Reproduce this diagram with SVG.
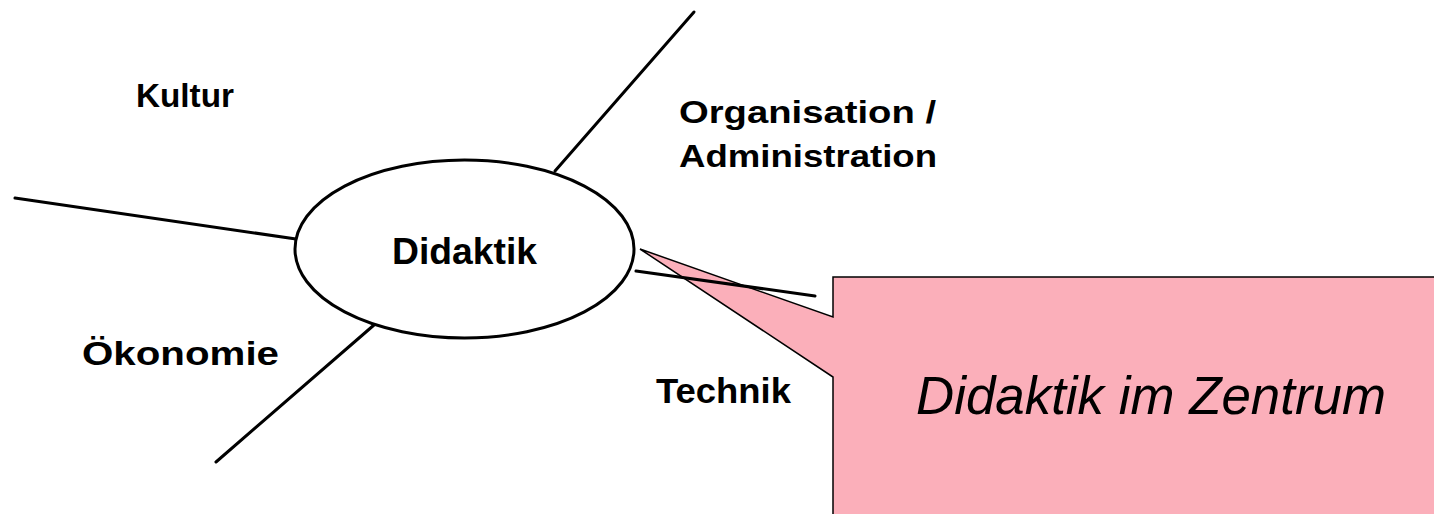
<svg xmlns="http://www.w3.org/2000/svg" width="1434" height="514" viewBox="0 0 1434 514">
  <style>
    .label { font-family: "Liberation Sans", Arial, sans-serif; font-weight: bold; fill: #000; }
    .spoke { stroke: #000; stroke-width: 3; fill: none; stroke-linecap: round; }
    .callout-text { font-family: "Liberation Sans", Arial, sans-serif; font-style: italic; font-size: 53px; fill: #000; }
  </style>
  <rect width="1434" height="514" fill="#fff"/>

  <!-- speech-bubble callout pointing at the centre node -->
  <g id="callout">
    <polygon points="833,277 1440,277 1440,520 833,520 833,377 640,249 833,317" fill="#FBAFBA" stroke="#000" stroke-width="1.5" stroke-linejoin="miter"/>
    <text class="callout-text" x="916" y="414" textLength="470" lengthAdjust="spacingAndGlyphs">Didaktik im Zentrum</text>
  </g>

  <!-- spokes radiating from the centre -->
  <g id="connectors">
    <line class="spoke" x1="15" y1="198" x2="296" y2="239"/>
    <line class="spoke" x1="216" y1="462" x2="374" y2="325"/>
    <line class="spoke" x1="555" y1="171" x2="694" y2="12"/>
    <line class="spoke" x1="636" y1="271" x2="815" y2="296"/>
  </g>

  <g id="didaktik">
    <ellipse cx="464.5" cy="249" rx="169.5" ry="89" fill="#fff" stroke="#000" stroke-width="3"/>
    <text class="label" x="392" y="264" font-size="37" textLength="145" lengthAdjust="spacingAndGlyphs">Didaktik</text>
  </g>

  <g id="kultur">
    <text class="label" x="136" y="107" font-size="34" textLength="98" lengthAdjust="spacingAndGlyphs">Kultur</text>
  </g>

  <g id="organisation">
    <text class="label" x="679" y="123" font-size="32" textLength="257" lengthAdjust="spacingAndGlyphs">Organisation /</text>
    <text class="label" x="679" y="167" font-size="32" textLength="258" lengthAdjust="spacingAndGlyphs">Administration</text>
  </g>

  <g id="oekonomie">
    <text class="label" x="82" y="365" font-size="34" textLength="197" lengthAdjust="spacingAndGlyphs">Ökonomie</text>
  </g>

  <g id="technik">
    <text class="label" x="656" y="403" font-size="35" textLength="135" lengthAdjust="spacingAndGlyphs">Technik</text>
  </g>
</svg>
